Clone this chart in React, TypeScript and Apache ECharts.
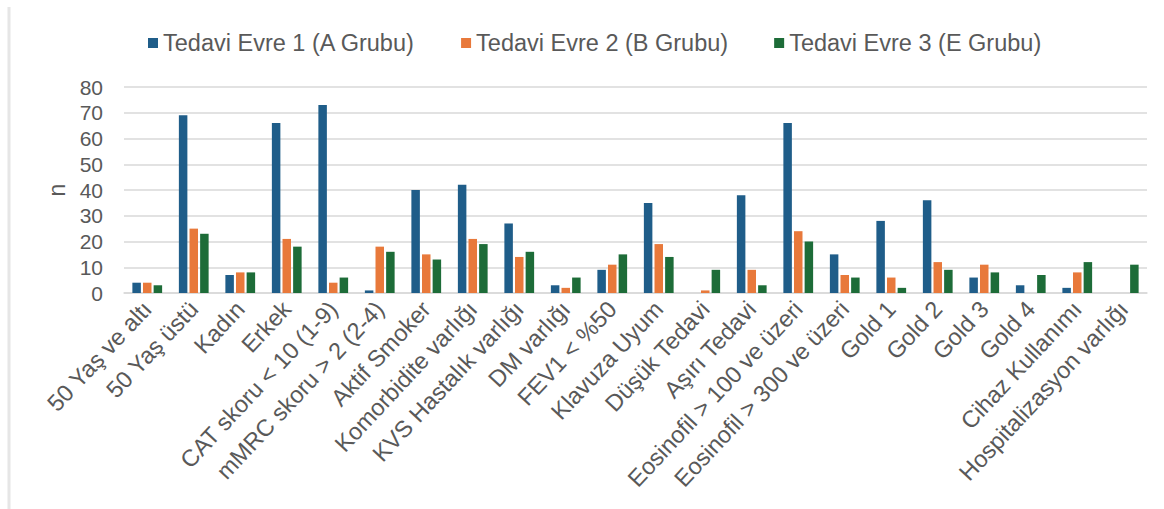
import React, { useEffect, useRef } from "react";
import * as echarts from "echarts";

const categories = [
  "50 Yaş ve altı",
  "50 Yaş üstü",
  "Kadın",
  "Erkek",
  "CAT skoru < 10 (1-9)",
  "mMRC skoru > 2 (2-4)",
  "Aktif Smoker",
  "Komorbidite varlığı",
  "KVS Hastalık varlığı",
  "DM varlığı",
  "FEV1 < %50",
  "Klavuza Uyum",
  "Düşük Tedavi",
  "Aşırı Tedavi",
  "Eosinofil > 100 ve üzeri",
  "Eosinofil > 300 ve üzeri",
  "Gold 1",
  "Gold 2",
  "Gold 3",
  "Gold 4",
  "Cihaz Kullanımı",
  "Hospitalizasyon varlığı",
];

const seriesNames = [
  "Tedavi Evre 1 (A Grubu)",
  "Tedavi Evre 2 (B Grubu)",
  "Tedavi Evre 3 (E Grubu)",
];

const evre1 = [4, 69, 7, 66, 73, 1, 40, 42, 27, 3, 9, 35, 0, 38, 66, 15, 28, 36, 6, 3, 2, 0];
const evre2 = [4, 25, 8, 21, 4, 18, 15, 21, 14, 2, 11, 19, 1, 9, 24, 7, 6, 12, 11, 0, 8, 0];
const evre3 = [3, 23, 8, 18, 6, 16, 13, 19, 16, 6, 15, 14, 9, 3, 20, 6, 2, 9, 8, 7, 12, 11];

const colors = ["#1F5D89", "#E8793B", "#1D6C38"];

export default function App() {
  const ref = useRef<HTMLDivElement>(null);
  useEffect(() => {
    if (!ref.current) return;
    const chart = echarts.init(ref.current, null, { renderer: "svg" });
    const font = "Liberation Sans, Arial, sans-serif";
    const data = [evre1, evre2, evre3];
    chart.setOption({
      animation: false,
      color: colors,
      textStyle: { fontFamily: font },
      graphic: [
        {
          type: "line",
          shape: { x1: 9, y1: 7, x2: 9, y2: 509 },
          style: { stroke: "#e6e6e6", lineWidth: 3 },
        },
      ],
      legend: {
        top: 26,
        left: 143,
        itemWidth: 10,
        itemHeight: 10,
        itemGap: 46,
        icon: "rect",
        textStyle: { fontSize: 23.5, color: "#595959", fontFamily: font },
        data: seriesNames,
      },
      grid: { left: 124, right: 17, top: 87, bottom: 216, containLabel: false },
      xAxis: {
        type: "category",
        data: categories,
        axisLine: { lineStyle: { color: "#d9d9d9", width: 1.5 } },
        axisTick: { show: false },
        axisLabel: {
          interval: 0,
          rotate: 47,
          fontSize: 23.5,
          color: "#595959",
          margin: 12,
          fontFamily: font,
        },
      },
      yAxis: {
        type: "value",
        min: 0,
        max: 80,
        interval: 10,
        name: "n",
        nameLocation: "middle",
        nameGap: 55,
        nameRotate: 90,
        nameTextStyle: { fontSize: 23, color: "#595959", fontFamily: font },
        axisLine: { show: false },
        axisTick: { show: false },
        axisLabel: { fontSize: 21, color: "#595959", margin: 21, fontFamily: font },
        splitLine: { lineStyle: { color: "#d9d9d9", width: 1.5 } },
      },
      series: seriesNames.map((name, i) => ({
        name,
        type: "bar",
        data: data[i],
        barWidth: 8.5,
        barGap: "25%",
        itemStyle: { color: colors[i] },
      })),
    });
    return () => chart.dispose();
  }, []);
  return (
    <div
      ref={ref}
      style={{ position: "fixed", left: 0, top: 0, width: 1164, height: 509, background: "#fff" }}
    />
  );
}
